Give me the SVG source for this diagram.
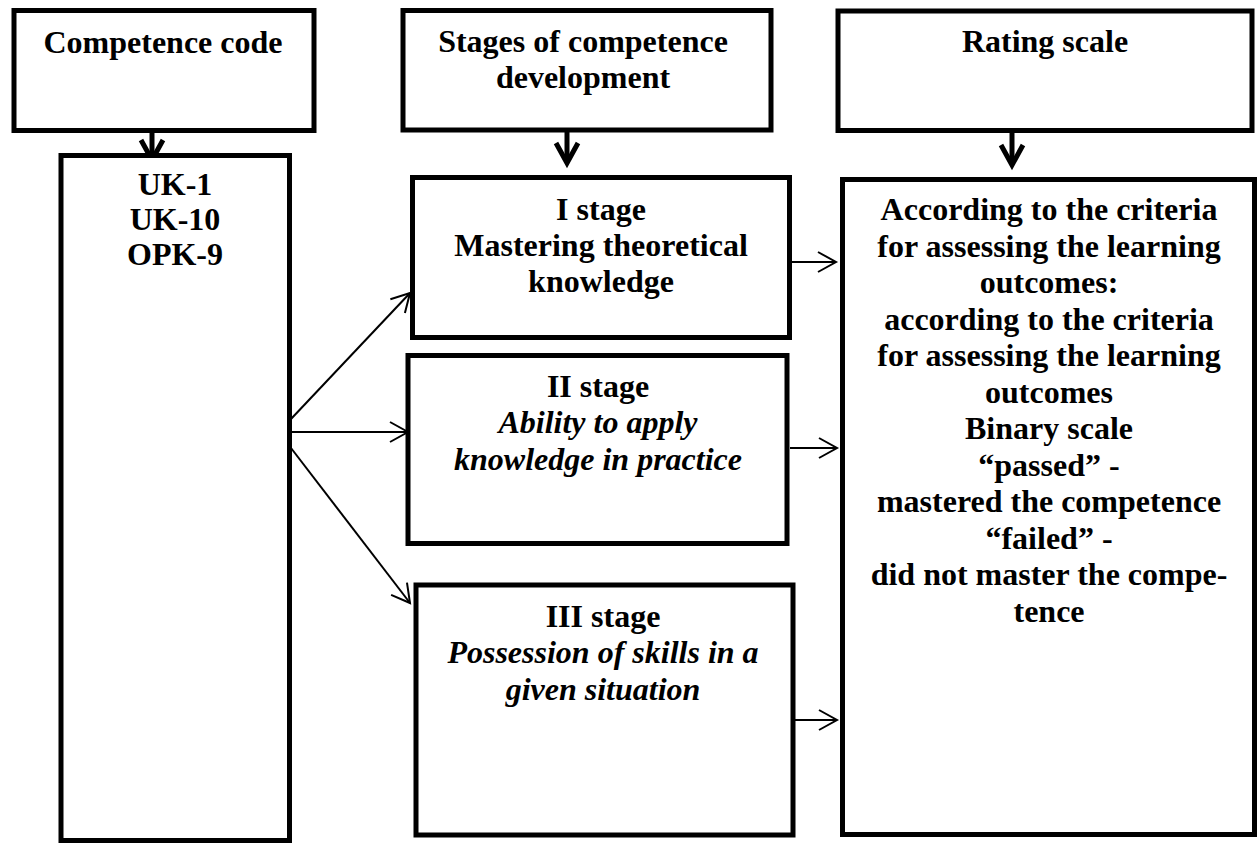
<svg xmlns="http://www.w3.org/2000/svg" width="1258" height="844" viewBox="0 0 1258 844">
<style>
.box{fill:#fff;stroke:#000;stroke-width:5}
.t{font-family:"Liberation Serif","Times New Roman",serif;font-size:32px;font-weight:bold;text-anchor:middle;fill:#000}
.i{font-style:italic}
.thin{stroke:#000;stroke-width:2;fill:none}
.thick{stroke:#000;stroke-width:5;fill:none}
</style>
<defs>
<marker id="ah" markerUnits="userSpaceOnUse" markerWidth="20" markerHeight="22" refX="0" refY="0" orient="auto" overflow="visible">
<path d="M-18,-10 L0,0 L-18,10" fill="none" stroke="#000" stroke-width="2"/>
</marker>
<marker id="ahb" markerUnits="userSpaceOnUse" markerWidth="24" markerHeight="26" refX="0" refY="0" orient="auto" overflow="visible">
<path d="M-20,-11 L0,0 L-20,11" fill="none" stroke="#000" stroke-width="5"/>
</marker>
</defs>
<rect width="1258" height="844" fill="#fff"/>
<g id="connectors">
<line class="thick" x1="152" y1="131" x2="152" y2="160" marker-end="url(#ahb)"/>
<line class="thick" x1="567" y1="130" x2="567" y2="163" marker-end="url(#ahb)"/>
<line class="thick" x1="1012" y1="130" x2="1012" y2="165" marker-end="url(#ahb)"/>
<line class="thin" x1="291" y1="419" x2="410" y2="293" marker-end="url(#ah)"/>
<line class="thin" x1="291" y1="432" x2="408" y2="432" marker-end="url(#ah)"/>
<line class="thin" x1="291" y1="448" x2="410" y2="603" marker-end="url(#ah)"/>
<line class="thin" x1="792" y1="262" x2="836" y2="262" marker-end="url(#ah)"/>
<line class="thin" x1="790" y1="448" x2="837" y2="448" marker-end="url(#ah)"/>
<line class="thin" x1="795" y1="720" x2="837" y2="720" marker-end="url(#ah)"/>
</g>
<g id="competence-code">
<rect class="box" x="14" y="10.5" width="300" height="120"/>
<text class="t" x="163" y="53">Competence code</text>
</g>
<g id="stages-header">
<rect class="box" x="403" y="10.5" width="368" height="119.5"/>
<text class="t" x="583" y="52">Stages of competence</text>
<text class="t" x="583" y="88">development</text>
</g>
<g id="rating-header">
<rect class="box" x="838" y="11" width="414" height="119.5"/>
<text class="t" x="1045" y="52">Rating scale</text>
</g>
<g id="codes">
<rect class="box" x="61" y="155.5" width="228.5" height="685"/>
<text class="t" x="175" y="195">UK-1</text>
<text class="t" x="175" y="230">UK-10</text>
<text class="t" x="175" y="265">OPK-9</text>
</g>
<g id="stage-1">
<rect class="box" x="412.5" y="177.5" width="377" height="160"/>
<text class="t" x="601" y="220">I stage</text>
<text class="t" x="601" y="256">Mastering theoretical</text>
<text class="t" x="601" y="292">knowledge</text>
</g>
<g id="stage-2">
<rect class="box" x="408" y="355.5" width="379" height="188"/>
<text class="t" x="598" y="397">II stage</text>
<text class="t i" x="598" y="433">Ability to apply</text>
<text class="t i" x="598" y="470">knowledge in practice</text>
</g>
<g id="stage-3">
<rect class="box" x="416" y="585" width="377" height="250"/>
<text class="t" x="603" y="627">III stage</text>
<text class="t i" x="603" y="663">Possession of skills in a</text>
<text class="t i" x="603" y="700">given situation</text>
</g>
<g id="rating">
<rect class="box" x="842.5" y="179.5" width="412" height="655"/>
<text class="t" x="1049" y="220">According to the criteria</text>
<text class="t" x="1049" y="256.5">for assessing the learning</text>
<text class="t" x="1049" y="293">outcomes:</text>
<text class="t" x="1049" y="329.5">according to the criteria</text>
<text class="t" x="1049" y="366">for assessing the learning</text>
<text class="t" x="1049" y="402.5">outcomes</text>
<text class="t" x="1049" y="439">Binary scale</text>
<text class="t" x="1049" y="475.5">“passed” -</text>
<text class="t" x="1049" y="512">mastered the competence</text>
<text class="t" x="1049" y="548.5">“failed” -</text>
<text class="t" x="1049" y="585">did not master the compe-</text>
<text class="t" x="1049" y="621.5">tence</text>
</g>
</svg>
